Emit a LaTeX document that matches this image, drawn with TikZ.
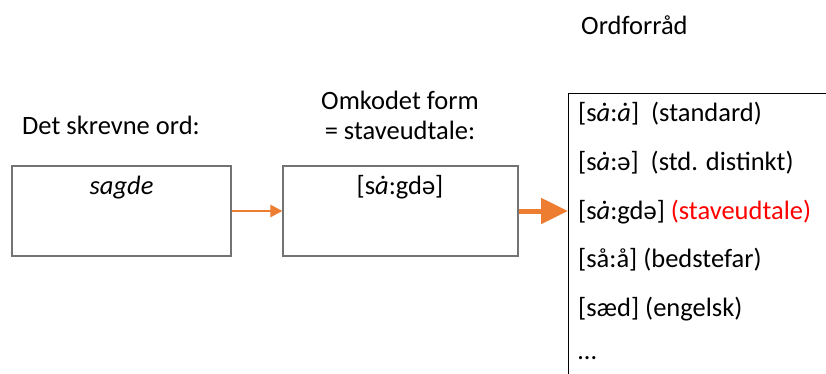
\documentclass[tikz,border=0pt]{standalone}
\usepackage{fontspec}
\setmainfont{Carlito}
\usetikzlibrary{positioning,arrows.meta}
\definecolor{pporange}{HTML}{ED7D31}
\definecolor{ppred}{HTML}{FF0000}

\begin{document}
\begin{tikzpicture}[x=1pt, y=-1pt,
    lbl/.style={font=\fontsize{26.5}{30}\selectfont, inner sep=0pt},
    wbox/.style={rectangle, draw=black!55, line width=1.2pt, minimum width=219pt, minimum height=90pt, inner sep=0pt},
    item/.style={lbl, anchor=west},
    smallarrow/.style={-{Triangle[length=12pt, width=12pt]}, line width=2.5pt, color=pporange},
    bigarrow/.style={-{Triangle[length=27pt, width=25pt]}, line width=5pt, color=pporange}]
    \clip (0,0) rectangle (826,373);

    %% headings
    \node[lbl, anchor=west] (ordforraad) at (581,25) {Ordforråd};
    \node[lbl, anchor=west] (skrevne) at (22,125) {Det skrevne ord:};
    \node[lbl, align=center] (omkodet) at (400,115) {Omkodet form\\ = staveudtale:};

    %% boxes
    \node[wbox] (sagde) at (121.5,211) {};
    \node[lbl] (sagdetxt) at (121.5,188) {\itshape sagde};
    \node[wbox, minimum width=235pt] (stave) at (400.5,211) {};
    \node[lbl] (stavetxt) at (400,187) {[s\textit{ȧ}:gdə]};
    \node[rectangle, draw=black, line width=1.2pt, minimum width=290pt, minimum height=320pt, anchor=north west] (lex) at (568,93) {};

    %% vocabulary
    \node[item] (w1) at (578,114) {[s\textit{ȧ}:\textit{ȧ}]\ \ (standard)};
    \node[item] (w2) at (578,163) {[s\textit{ȧ}:ə]\ \ (std. distinkt)};
    \node[item] (w3) at (578,212) {[s\textit{ȧ}:gdə] \textcolor{ppred}{(staveudtale)}};
    \node[item] (w4) at (578,260) {[så:å] (bedstefar)};
    \node[item] (w5) at (578,309) {[sæd] (engelsk)};
    \node[item] (w6) at (578,358) {…};

    %% arrows
    \draw[smallarrow] (sagde.east) -- (stave.west);
    \draw[bigarrow] (stave.east) -- (stave.east -| lex.west);
\end{tikzpicture}
\end{document}
